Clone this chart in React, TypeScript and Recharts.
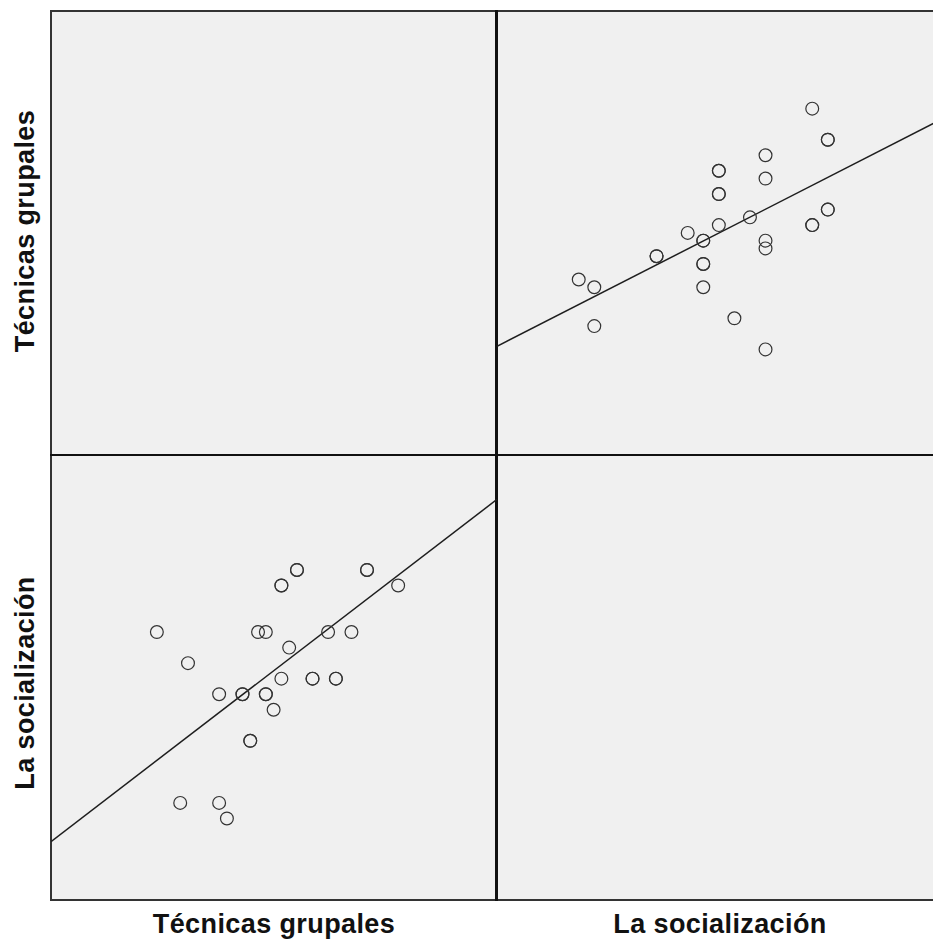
import React from "react";
import { ScatterChart, Scatter, XAxis, YAxis, ReferenceLine } from "recharts";

// Puntuaciones por caso (los puntos repetidos se ven más oscuros)
const tecnicas = [31, 27, 27, 25, 22, 23, 23, 20, 20, 16, 17, 15, 14, 14, 12, 12, 11, 11, 14, 13, 16, 16, 18, 18, 9, 8, 8, 3, 4, 0];
const socializacion = [15, 16, 16, 12, 12, 9, 9, 9, 9, 9, 11, 7, 8, 8, 5, 5, 8, 8, 12, 12, 15, 15, 16, 16, 0, 1, 8, 1, 10, 12];

// rectas de ajuste
const fitTecOnSoc = { intercept: 5.77, slope: 1.0235 };
const fitSocOnTec = { intercept: 3.74, slope: 0.3845 };

const labels = ["Técnicas grupales", "La socialización"];
const tecDomain: [number, number] = [-13.6, 43.7];
const socDomain: [number, number] = [-5.25, 23.4];

const cases = tecnicas.map((t, i) => ({ tec: t, soc: socializacion[i] }));

const W = 446;
const H = 445;

const Ring = (props: any) => {
  const { cx, cy } = props;
  if (cx == null || cy == null) return null;
  return <circle cx={cx} cy={cy} r={6.4} fill="none" stroke="#333" strokeWidth={1.2} />;
};

type Key = "tec" | "soc";

function Panel({ xKey, yKey, xDomain, yDomain, fit }: { xKey: Key; yKey: Key; xDomain: [number, number]; yDomain: [number, number]; fit: { intercept: number; slope: number } }) {
  const f = (x: number) => fit.intercept + fit.slope * x;
  return (
    <ScatterChart width={W} height={H} margin={{ top: 0, right: 0, bottom: 0, left: 0 }}>
      <XAxis type="number" dataKey={xKey} domain={xDomain} hide allowDataOverflow />
      <YAxis type="number" dataKey={yKey} domain={yDomain} hide allowDataOverflow />
      <ReferenceLine
        segment={[
          { x: xDomain[0], y: f(xDomain[0]) },
          { x: xDomain[1], y: f(xDomain[1]) },
        ]}
        stroke="#1e1e1e"
        strokeWidth={1.5}
        ifOverflow="hidden"
      />
      <Scatter data={cases} shape={Ring} isAnimationActive={false} />
    </ScatterChart>
  );
}

export default function App() {
  const font = { fontFamily: "'Liberation Sans', Arial, sans-serif", fontWeight: 700, fontSize: 27, letterSpacing: 0.4, fill: "#111" };
  return (
    <div style={{ position: "fixed", left: 0, top: 0, width: 933, height: 946, overflow: "hidden", background: "#fff" }}>
      {/* marco y fondo */}
      <div
        style={{
          position: "absolute",
          left: 50,
          top: 10,
          width: 900,
          height: 887,
          background: "#f0f0f0",
          borderLeft: "2px solid #333",
          borderTop: "2px solid #333",
          borderBottom: "2px solid #333",
        }}
      />
      <div style={{ position: "absolute", left: 495, top: 10, width: 2.5, height: 891, background: "#111" }} />
      <div style={{ position: "absolute", left: 50, top: 453.5, width: 900, height: 2.5, background: "#111" }} />

      {/* celdas */}
      <div style={{ position: "absolute", left: 497, top: 10 }}>
        <Panel xKey="soc" yKey="tec" xDomain={socDomain} yDomain={tecDomain} fit={fitTecOnSoc} />
      </div>
      <div style={{ position: "absolute", left: 51, top: 455 }}>
        <Panel xKey="tec" yKey="soc" xDomain={tecDomain} yDomain={socDomain} fit={fitSocOnTec} />
      </div>

      {/* etiquetas */}
      <svg width={933} height={946} style={{ position: "absolute", left: 0, top: 0 }}>
        <text x={274} y={933} textAnchor="middle" style={font}>{labels[0]}</text>
        <text x={720} y={933} textAnchor="middle" style={font}>{labels[1]}</text>
        <text x={34} y={231} textAnchor="middle" transform="rotate(-90 34 231)" style={font}>{labels[0]}</text>
        <text x={34} y={683} textAnchor="middle" transform="rotate(-90 34 683)" style={font}>{labels[1]}</text>
      </svg>
    </div>
  );
}
